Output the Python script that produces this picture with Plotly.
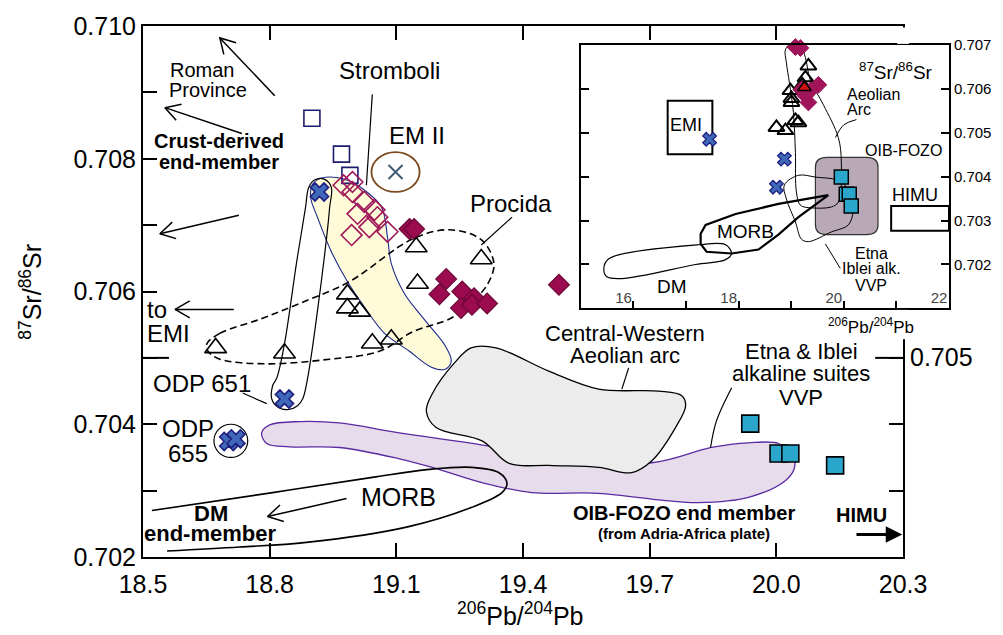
import math
import plotly.graph_objects as go

FONT = "Liberation Sans, Arial, Helvetica, sans-serif"

# ================= DATA : main diagram (206Pb/204Pb vs 87Sr/86Sr) =================
x_ticks = [18.5, 18.8, 19.1, 19.4, 19.7, 20.0, 20.3]
x_ticklabels = ["18.5", "18.8", "19.1", "19.4", "19.7", "20.0", "20.3"]
y_ticks = [0.702, 0.704, 0.706, 0.708, 0.71]
y_ticklabels = ["0.702", "0.704", "0.706", "0.708", "0.710"]

# open navy squares
sq_open_x = [18.90, 18.97, 18.99]
sq_open_y = [0.70861, 0.70807, 0.70775]
# open crimson diamonds (Stromboli)
dia_open_x = [18.975, 18.996, 18.996, 19.024, 19.008, 19.048, 19.055, 19.036, 18.994, 19.079]
dia_open_y = [0.70760, 0.70765, 0.70750, 0.70735, 0.70717, 0.70723, 0.70712, 0.70697, 0.70685, 0.70690]
# filled crimson diamonds
dia_fill_x = [19.131, 19.142, 19.218, 19.202, 19.256, 19.253, 19.284, 19.279, 19.315, 19.485]
dia_fill_y = [0.70694, 0.70694, 0.70619, 0.70596, 0.70600, 0.70575, 0.70590, 0.70580, 0.70582, 0.70610]
# open triangles
tri_x = [19.147, 19.301, 19.150, 18.984, 18.984, 19.013, 19.043, 19.088, 18.672, 18.835]
tri_y = [0.70667, 0.70649, 0.70612, 0.70596, 0.70575, 0.70570, 0.70522, 0.70528, 0.70515, 0.70507]
# ODP crosses
odp_x = [18.918, 18.835, 18.703, 18.720]
odp_y = [0.70750, 0.70438, 0.70374, 0.70378]
# EM II end-member
em2_x = [19.098]
em2_y = [0.70780]
# Etna & Iblei / VVP squares
vvp_x = [19.938, 20.005, 20.033, 20.139]
vvp_y = [0.70401, 0.70356, 0.70356, 0.70338]

# fields
stromboli_x = [18.906, 18.930, 18.946, 18.942, 18.937, 18.913, 18.890, 18.878, 18.866, 18.843,
               18.819, 18.805, 18.807, 18.817, 18.835, 18.864, 18.885, 18.892]
stromboli_y = [0.70768, 0.70769, 0.70757, 0.70727, 0.70694, 0.70570, 0.70470, 0.70438, 0.70428, 0.70422,
               0.70426, 0.70438, 0.70458, 0.70470, 0.70521, 0.70645, 0.70727, 0.70756]
strom_hk_x = [18.902, 18.923, 18.977, 19.024, 19.065, 19.079, 19.088, 19.119, 19.166, 19.216,
              19.230, 19.216, 19.183, 19.131, 19.072, 19.024, 18.984, 18.946, 18.913, 18.897]
strom_hk_y = [0.70762, 0.70771, 0.70769, 0.70753, 0.70727, 0.70682, 0.70642, 0.70597, 0.70558, 0.70518,
              0.70495, 0.70483, 0.70486, 0.70510, 0.70537, 0.70577, 0.70615, 0.70660, 0.70712, 0.70742]
procida_x = [18.651, 18.682, 18.776, 18.871, 18.989, 19.138, 19.225, 19.301, 19.331, 19.315,
             19.272, 19.230, 19.138, 19.060, 18.942, 18.793, 18.682, 18.654]
procida_y = [0.70521, 0.70537, 0.70558, 0.70582, 0.70615, 0.70679, 0.70693, 0.70678, 0.70642, 0.70610,
             0.70580, 0.70560, 0.70539, 0.70510, 0.70498, 0.70491, 0.70498, 0.70510]
cwa_x = [19.277, 19.336, 19.461, 19.579, 19.721, 19.776, 19.785, 19.761, 19.705, 19.657,
         19.579, 19.461, 19.367, 19.303, 19.194, 19.171, 19.185, 19.237]
cwa_y = [0.70515, 0.70515, 0.70480, 0.70453, 0.70450, 0.70443, 0.70428, 0.70395, 0.70345, 0.70327,
         0.70335, 0.70338, 0.70341, 0.70375, 0.70395, 0.70420, 0.70446, 0.70492]
fozo_x = [18.781, 18.800, 18.871, 18.965, 19.107, 19.272, 19.461, 19.705, 19.846, 19.934, 20.005,
          20.040, 20.042, 20.021, 19.934, 19.816, 19.738, 19.579, 19.421, 19.303, 19.185, 19.107,
          18.965, 18.847, 18.793]
fozo_y = [0.70387, 0.70399, 0.70404, 0.70402, 0.70387, 0.70372, 0.70353, 0.70342, 0.70365, 0.70372, 0.70371,
          0.70353, 0.70333, 0.70315, 0.70290, 0.70282, 0.70285, 0.70296, 0.70297, 0.70312, 0.70335, 0.70348,
          0.70365, 0.70366, 0.70371]
morb_x = [18.521, 18.807, 19.043, 19.178, 19.279, 19.343, 19.362, 19.350, 19.279, 19.124, 18.887, 18.729, 18.557]
morb_y = [0.70270, 0.70297, 0.70320, 0.70332, 0.70335, 0.70327, 0.70311, 0.70297, 0.70275, 0.70245,
          0.70222, 0.70215, 0.70209]

# ================= DATA : inset (global view) =================
in_x_ticks = [16, 18, 20, 22]
in_y_ticks = [0.701, 0.702, 0.703, 0.704, 0.705, 0.706, 0.707]
in_tri_x = [19.326, 19.269, 19.212, 18.984, 19.003, 19.003, 18.718, 18.889, 19.079, 19.136]
in_tri_y = [0.70652, 0.70625, 0.70609, 0.70596, 0.70578, 0.70569, 0.70512, 0.70505, 0.70528, 0.70523]
in_dia_x = [19.079, 19.174, 19.515, 19.269, 19.326, 19.193, 19.364]
in_dia_y = [0.70695, 0.70693, 0.70609, 0.70585, 0.70569, 0.70598, 0.70596]
in_redtri_x = [19.250]
in_redtri_y = [0.70603]
in_odp_x = [17.447, 18.870, 18.718]
in_odp_y = [0.70485, 0.70440, 0.70376]
in_vvp_x = [19.952, 20.046, 20.103, 20.141]
in_vvp_y = [0.70399, 0.70360, 0.70360, 0.70333]
in_morb_x = [19.705, 18.756, 17.941, 17.371, 17.277, 17.277, 17.390, 17.865, 18.377, 18.756, 19.136, 19.515]
in_morb_y = [0.70358, 0.70338, 0.70315, 0.70290, 0.70270, 0.70247, 0.70229, 0.70225, 0.70234, 0.70268,
             0.70308, 0.70342]
in_dm_x = [15.436, 15.531, 17.239, 17.751, 17.865, 17.751, 17.182, 15.778, 15.493]
in_dm_y = [0.70191, 0.70213, 0.70245, 0.70245, 0.70225, 0.70211, 0.70200, 0.70168, 0.70172]
in_aeol_x = [18.889, 19.003, 19.193, 19.269, 19.364, 19.610, 19.895, 19.952, 19.895, 19.762, 19.382,
             19.174, 19.098, 19.079, 19.041, 18.965, 18.908]
in_aeol_y = [0.70689, 0.70704, 0.70693, 0.70671, 0.70619, 0.70564, 0.70489, 0.70433, 0.70342, 0.70331,
             0.70329, 0.70335, 0.70365, 0.70455, 0.70546, 0.70614, 0.70659]
in_etna_x = [18.870, 19.136, 19.458, 19.952, 20.179, 20.179, 20.085, 19.762, 19.326, 19.193, 19.079, 18.908]
in_etna_y = [0.70381, 0.70403, 0.70399, 0.70388, 0.70342, 0.70320, 0.70290, 0.70274, 0.70252, 0.70258,
             0.70297, 0.70349]
emi_box = [16.65, 17.50, 0.70451, 0.70573]
himu_box = [20.90, 22.0, 0.70277, 0.70333]
fozo_box = [19.46, 20.65, 0.70268, 0.70444]

# ================= LAYOUT GEOMETRY =================
W, H = 1003, 635
ML, MR, MT, MB = 143, 52, 23, 78
PW, PH = W - ML - MR, H - MT - MB
MAIN_XD = [0, 762 / PW]
IN_XD = [(582 - ML) / PW, 1.0]
IN_YD = [(557 - 307) / PH, (557 - 42) / PH]
PX_X = 762 / 1.8        # px per unit, main x
PX_Y = PH / 0.008       # px per unit, main y

fig = go.Figure()


def field(x, y, line, fill=None, width=1.2, dash=None, xa="x", ya="y", closed=True, spline=True):
    xs, ys = list(x), list(y)
    if closed:
        xs.append(x[0]); ys.append(y[0])
    fig.add_trace(go.Scatter(
        x=xs, y=ys, mode="lines", xaxis=xa, yaxis=ya,
        fill="toself" if fill else "none", fillcolor=fill,
        line=dict(color=line, width=width, dash=dash, shape="spline" if spline else "linear", smoothing=1.0),
        hoverinfo="skip", showlegend=False))


def pts(x, y, symbol, size, color, lcolor, lwidth, xa="x", ya="y"):
    fig.add_trace(go.Scatter(
        x=x, y=y, mode="markers", xaxis=xa, yaxis=ya,
        marker=dict(symbol=symbol, size=size, color=color, line=dict(color=lcolor, width=lwidth)),
        hoverinfo="skip", showlegend=False, cliponaxis=False))


def seg(x0, y0, x1, y1, width=1.2, color="black", xr="x", yr="y"):
    fig.add_shape(type="line", x0=x0, y0=y0, x1=x1, y1=y1, xref=xr, yref=yr,
                  line=dict(color=color, width=width), layer="below")


def v_arrow(tail, head, L=17, ang=30, width=1.5):
    dx = (head[0] - tail[0]) * PX_X
    dy = (head[1] - tail[1]) * PX_Y
    d = math.hypot(dx, dy)
    ux, uy = dx / d, dy / d
    xs = [tail[0], head[0], None]
    ys = [tail[1], head[1], None]
    barbs = []
    for s in (1, -1):
        a = math.radians(ang) * s
        vx, vy = -ux, -uy
        bx = vx * math.cos(a) - vy * math.sin(a)
        by = vx * math.sin(a) + vy * math.cos(a)
        barbs.append((head[0] + bx * L / PX_X, head[1] + by * L / PX_Y))
    xs += [barbs[0][0], head[0], barbs[1][0]]
    ys += [barbs[0][1], head[1], barbs[1][1]]
    fig.add_trace(go.Scatter(x=xs, y=ys, mode="lines", line=dict(color="black", width=width),
                             hoverinfo="skip", showlegend=False))


def txt(x, y, s, size=22, bold=False, xref="x", yref="y", xanchor="center", angle=0):
    fig.add_annotation(x=x, y=y, xref=xref, yref=yref, text=f"<b>{s}</b>" if bold else s,
                       showarrow=False, xanchor=xanchor, yanchor="middle", textangle=angle,
                       font=dict(family=FONT, size=size, color="black"))


# ---------------- main fields ----------------
field(fozo_x, fozo_y, "#5a2aa0", fill="#e6dcec", width=1.3)
field(cwa_x, cwa_y, "black", fill="#ececec", width=1.3)
field(morb_x, morb_y, "black", width=1.6, closed=False)
field(strom_hk_x, strom_hk_y, "#1c2a8a", fill="#fffbd9", width=1.1)
field(stromboli_x, stromboli_y, "black", width=1.2)
field(procida_x, procida_y, "black", width=1.6, dash="7px,4px")

# EM II ellipse, ODP 655 circle
fig.add_shape(type="circle", xref="x", yref="y", x0=19.041, x1=19.155, y0=0.70750, y1=0.70810,
              line=dict(color="#7a4a1e", width=1.8), layer="below")
fig.add_shape(type="circle", xref="x", yref="y", x0=18.668, x1=18.748, y0=0.70350, y1=0.70400,
              line=dict(color="black", width=1.2), layer="below")

# leader lines
seg(19.043, 0.70897, 19.029, 0.70760)      # Stromboli
seg(19.301, 0.70670, 19.374, 0.70712)      # Procida
seg(19.634, 0.70453, 19.650, 0.70485)      # Central-Western
seg(18.736, 0.70447, 18.793, 0.70431)      # ODP 651
fig.add_trace(go.Scatter(x=[19.844, 19.858, 19.894], y=[0.70365, 0.70405, 0.70455], mode="lines",
                         line=dict(color="black", width=1.2, shape="spline"), hoverinfo="skip", showlegend=False))
# longer 0.705 ticks
seg(18.5, 0.705, 18.5 + 26 / PX_X, 0.705, width=2)
seg(20.3 - 28 / PX_X, 0.705, 20.3, 0.705, width=2)

# arrows
v_arrow((18.812, 0.70895), (18.682, 0.70982))
v_arrow((18.734, 0.70838), (18.552, 0.70877))
v_arrow((18.727, 0.70715), (18.540, 0.70687))
v_arrow((18.715, 0.70573), (18.576, 0.70573))
v_arrow((18.982, 0.70288), (18.795, 0.70261))
fig.add_annotation(x=20.298, y=0.70234, ax=20.186, ay=0.70234, xref="x", yref="y", axref="x", ayref="y",
                   text="", showarrow=True, arrowhead=2, arrowsize=1.1, arrowwidth=3, arrowcolor="black")

# ---------------- main markers ----------------
pts(sq_open_x, sq_open_y, "square-open", 16, "#1c1c6e", "#1c1c6e", 1.6)
pts(dia_open_x, dia_open_y, "diamond-open", 16, "#a0185a", "#a0185a", 1.6)
pts(dia_fill_x, dia_fill_y, "diamond", 16, "#9c0a50", "#6a0836", 1.2)
pts(tri_x, tri_y, "triangle-up-open", 19, "black", "black", 1.6)
pts(odp_x, odp_y, "x", 16, "#3f68b8", "#1f1f80", 1.6)
pts(em2_x, em2_y, "x-thin-open", 14, "#3d5a75", "#3d5a75", 2)
pts(vvp_x, vvp_y, "square", 17, "#2aa6cc", "black", 1.6)

# ---------------- main texts ----------------
txt(18.639, 0.70934, "Roman", 20)
txt(18.654, 0.70903, "Province", 20)
txt(18.680, 0.70826, "Crust-derived", 20, bold=True)
txt(18.680, 0.70795, "end-member", 20, bold=True)
txt(18.505, 0.70573, "to", 24, xanchor="left")
txt(18.505, 0.70536, "EMI", 24, xanchor="left")
txt(19.083, 0.70933, "Stromboli", 24)
txt(19.150, 0.70835, "EM II", 24)
txt(19.372, 0.70732, "Procida", 24)
txt(18.639, 0.70462, "ODP 651", 24)
txt(18.606, 0.70393, "ODP", 24)
txt(18.606, 0.70356, "655", 24)
txt(19.641, 0.70537, "Central-Western", 22)
txt(19.641, 0.70503, "Aeolian arc", 22)
txt(20.059, 0.70509, "Etna &amp; Iblei", 22)
txt(20.059, 0.70476, "alkaline suites", 22)
txt(20.059, 0.70440, "VVP", 22)
txt(19.105, 0.70290, "MORB", 25)
txt(18.661, 0.70266, "DM", 22, bold=True)
txt(18.658, 0.70236, "end-member", 22, bold=True)
txt(19.780, 0.70266, "OIB-FOZO end member", 20, bold=True)
txt(19.780, 0.70236, "(from Adria-Africa plate)", 15, bold=True)
txt(20.201, 0.70264, "HIMU", 20, bold=True)
txt((910 - ML) / PW, (557 - 356) / PH, "0.705", 25, xref="paper", yref="paper", xanchor="left")
txt((30 - ML) / PW, (557 - 290) / PH, "<sup>87</sup>Sr/<sup>86</sup>Sr", 25, xref="paper", yref="paper", angle=-90)
txt((521 - ML) / PW, (557 - 614) / PH, "<sup>206</sup>Pb/<sup>204</sup>Pb", 25, xref="paper", yref="paper")

# ---------------- inset ----------------
x0, x1, y0, y1 = fozo_box
rx, ry = 0.22, 0.00022
fig.add_shape(type="path", xref="x2", yref="y2", layer="below",
              path=(f"M{x0+rx},{y1} L{x1-rx},{y1} Q{x1},{y1} {x1},{y1-ry} L{x1},{y0+ry} "
                    f"Q{x1},{y0} {x1-rx},{y0} L{x0+rx},{y0} Q{x0},{y0} {x0},{y0+ry} "
                    f"L{x0},{y1-ry} Q{x0},{y1} {x0+rx},{y1} Z"),
              fillcolor="#b9a8b6", line=dict(color="#333333", width=1.2))
for bx in (emi_box, himu_box):
    fig.add_shape(type="rect", xref="x2", yref="y2", x0=bx[0], x1=bx[1], y0=bx[2], y1=bx[3],
                  line=dict(color="black", width=2), layer="below")

field(in_dm_x, in_dm_y, "black", width=1.2, xa="x2", ya="y2")
field(in_morb_x, in_morb_y, "black", width=2.2, xa="x2", ya="y2", spline=False)
field(in_aeol_x, in_aeol_y, "black", width=1.0, xa="x2", ya="y2")
field(in_etna_x, in_etna_y, "black", width=1.0, xa="x2", ya="y2")
fig.add_trace(go.Scatter(x=[19.84, 20.00, 20.24], y=[0.70489, 0.70518, 0.70530], mode="lines", xaxis="x2", yaxis="y2",
                         line=dict(color="black", width=1.0, shape="spline"), hoverinfo="skip", showlegend=False))
fig.add_trace(go.Scatter(x=[19.648, 19.933], y=[0.70247, 0.70191], mode="lines", xaxis="x2", yaxis="y2",
                         line=dict(color="black", width=1.0), hoverinfo="skip", showlegend=False))

pts(in_odp_x, in_odp_y, "x", 12, "#3f68b8", "#1f1f80", 1.3, xa="x2", ya="y2")
pts(in_tri_x, in_tri_y, "triangle-up-open", 14, "black", "black", 2, xa="x2", ya="y2")
pts(in_dia_x, in_dia_y, "diamond", 13, "#a0145a", "#a0145a", 1, xa="x2", ya="y2")
pts(in_redtri_x, in_redtri_y, "triangle-up", 12, "#d01010", "black", 1.5, xa="x2", ya="y2")
pts(in_vvp_x, in_vvp_y, "square", 14, "#2aa6cc", "black", 1.5, xa="x2", ya="y2")

txt(16.99, 0.70517, "EMI", 18, xref="x2", yref="y2")
txt(21.36, 0.70358, "HIMU", 18, xref="x2", yref="y2")
txt(21.13, 0.70460, "OIB-FOZO", 16, xref="x2", yref="y2")
txt(20.03, 0.70587, "Aeolian", 16, xref="x2", yref="y2", xanchor="left")
txt(20.03, 0.70552, "Arc", 16, xref="x2", yref="y2", xanchor="left")
txt(20.52, 0.70226, "Etna", 16, xref="x2", yref="y2")
txt(20.52, 0.70190, "Iblei alk.", 16, xref="x2", yref="y2")
txt(20.52, 0.70152, "VVP", 16, xref="x2", yref="y2")
txt(21.0, 0.70641, "<sup>87</sup>Sr/<sup>86</sup>Sr", 19, xref="x2", yref="y2")
txt(18.13, 0.70274, "MORB", 19, xref="x2", yref="y2")
txt(16.73, 0.70150, "DM", 19, xref="x2", yref="y2")
txt((873 - ML) / PW, (557 - 325) / PH, "<sup>206</sup>Pb/<sup>204</sup>Pb", 17, xref="paper", yref="paper")

# masks for the part of the main frame hidden by the inset box
for ya, yb in ((24.5, 41), (308.5, 338)):
    fig.add_shape(type="rect", xref="paper", yref="paper", x0=(899 - ML) / PW, x1=(911 - ML) / PW,
                  y0=(557 - yb) / PH, y1=(557 - ya) / PH, fillcolor="white", line=dict(width=0), layer="above")

axis_common = dict(showgrid=False, zeroline=False, showline=True, linecolor="black", ticks="inside",
                   tickcolor="black")
fig.update_layout(
    width=W, height=H, margin=dict(l=ML, r=MR, t=MT, b=MB),
    paper_bgcolor="white", plot_bgcolor="white", showlegend=False,
    font=dict(family=FONT, color="black"),
    xaxis=dict(**axis_common, domain=MAIN_XD, range=[18.5, 20.3], tickvals=x_ticks, ticktext=x_ticklabels,
               ticklen=14, tickwidth=2, linewidth=2, mirror="ticks", tickfont=dict(size=25), anchor="y",
               ticklabelstandoff=4),
    yaxis=dict(**axis_common, domain=[0, 1], range=[0.702, 0.71], tickvals=y_ticks, ticktext=y_ticklabels,
               ticklen=14, tickwidth=2, linewidth=2, mirror="ticks", tickfont=dict(size=25), anchor="x",
               minor=dict(dtick=0.001, tick0=0.702, ticks="inside", ticklen=14, tickwidth=2, tickcolor="black")),
    xaxis2=dict(**axis_common, domain=IN_XD, range=[15, 22], anchor="y2", tickvals=in_x_ticks,
                ticktext=[str(v) for v in in_x_ticks], ticklen=8, tickwidth=1.5, linewidth=1.8, mirror=True,
                ticklabelposition="inside left", tickfont=dict(size=15),
                minor=dict(dtick=1, tick0=15, ticks="inside", ticklen=8, tickwidth=1.5, tickcolor="black")),
    yaxis2=dict(**axis_common, domain=IN_YD, range=[0.701, 0.707], anchor="x2", side="right",
                tickvals=in_y_ticks, ticktext=[f"{v:.3f}" for v in in_y_ticks], ticklen=8, tickwidth=1.5,
                linewidth=1.8, mirror="ticks", tickfont=dict(size=15)),
)

fig.write_html("out.html")
